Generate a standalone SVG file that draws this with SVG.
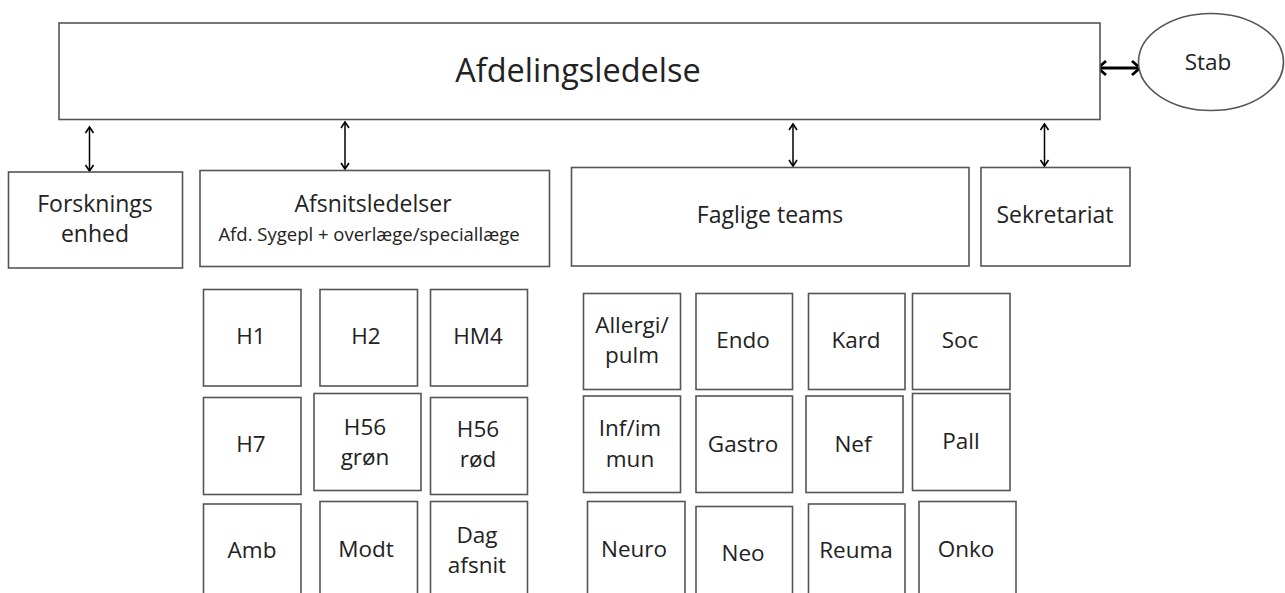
<svg xmlns="http://www.w3.org/2000/svg" width="1285" height="593" viewBox="0 0 1285 593">
<style>
.box{fill:#fff;stroke:#555;stroke-width:1.6}
text{font-family:"Open Sans","Noto Sans","DejaVu Sans",sans-serif;fill:#222;text-anchor:middle}
.t1{font-size:32.5px}
.t2{font-size:23px}
.t3{font-size:18.5px}
.t4{font-size:22.5px}
.conn{stroke:#000;stroke-width:1.5;fill:none}
.thick{stroke:#000;stroke-width:3;fill:none}
</style>
<defs>
<marker id="ah" markerWidth="12" markerHeight="12" refX="9" refY="6" orient="auto-start-reverse" markerUnits="userSpaceOnUse">
<path d="M3,2 L9,6 L3,10" fill="none" stroke="#000" stroke-width="1.6"/>
</marker>
<marker id="ah2" markerWidth="16" markerHeight="20" refX="12" refY="10" orient="auto-start-reverse" markerUnits="userSpaceOnUse">
<path d="M4,3 L12,10 L4,17" fill="none" stroke="#000" stroke-width="2.8"/>
</marker>
</defs>
<g id="connectors">
<line class="conn" x1="89.5" y1="127" x2="89.5" y2="171" marker-start="url(#ah)" marker-end="url(#ah)"/>
<line class="conn" x1="345" y1="122" x2="345" y2="169" marker-start="url(#ah)" marker-end="url(#ah)"/>
<line class="conn" x1="793" y1="124" x2="793" y2="166" marker-start="url(#ah)" marker-end="url(#ah)"/>
<line class="conn" x1="1044.5" y1="124" x2="1044.5" y2="166" marker-start="url(#ah)" marker-end="url(#ah)"/>
<line class="thick" x1="1098" y1="68" x2="1140" y2="68" marker-start="url(#ah2)" marker-end="url(#ah2)"/>
</g>
<g id="afdelingsledelse"><rect class="box" x="59" y="23" width="1041" height="96.5"/><text class="t1" x="578" y="82">Afdelingsledelse</text></g>
<g id="stab"><ellipse class="box" cx="1211" cy="62" rx="72.5" ry="48.5"/><text class="t4" x="1208" y="70">Stab</text></g>
<g id="forsknings"><rect class="box" x="8.5" y="172" width="174" height="96"/><text class="t2" x="95" y="212">Forsknings</text><text class="t2" x="95" y="242">enhed</text></g>
<g id="afsnitsledelser"><rect class="box" x="200" y="170.5" width="349.5" height="96"/><text class="t2" x="373" y="212">Afsnitsledelser</text><text class="t3" x="369" y="241">Afd. Sygepl + overlæge/speciallæge</text></g>
<g id="faglige"><rect class="box" x="571.5" y="167.5" width="397.5" height="98.5"/><text class="t2" x="770" y="223">Faglige teams</text></g>
<g id="sekretariat"><rect class="box" x="981" y="167.5" width="149" height="98.5"/><text class="t2" x="1055" y="223">Sekretariat</text></g>

<g id="h1"><rect class="box" x="203.5" y="289.5" width="97.5" height="96.5"/><text class="t4" x="251" y="344">H1</text></g>
<g id="h2"><rect class="box" x="320" y="289.5" width="97.5" height="96.5"/><text class="t4" x="366" y="344">H2</text></g>
<g id="hm4"><rect class="box" x="430.5" y="289.5" width="97" height="96.5"/><text class="t4" x="478" y="344">HM4</text></g>
<g id="h7"><rect class="box" x="203.5" y="397.5" width="97.5" height="97"/><text class="t4" x="251" y="452">H7</text></g>
<g id="h56gron"><rect class="box" x="314" y="393.5" width="107" height="97"/><text class="t4" x="365" y="435">H56</text><text class="t4" x="365" y="465">grøn</text></g>
<g id="h56rod"><rect class="box" x="430.5" y="397.5" width="97" height="97"/><text class="t4" x="478" y="437">H56</text><text class="t4" x="478" y="467">rød</text></g>
<g id="amb"><rect class="box" x="203.5" y="504" width="97.5" height="97"/><text class="t4" x="252" y="558">Amb</text></g>
<g id="modt"><rect class="box" x="320" y="501.5" width="97.5" height="100"/><text class="t4" x="366" y="557">Modt</text></g>
<g id="dag"><rect class="box" x="430.5" y="501.5" width="97" height="100"/><text class="t4" x="477" y="543">Dag</text><text class="t4" x="477" y="573">afsnit</text></g>

<g id="allergi"><rect class="box" x="583.5" y="293.5" width="97" height="96"/><text class="t4" x="632" y="333">Allergi/</text><text class="t4" x="632" y="363">pulm</text></g>
<g id="endo"><rect class="box" x="696" y="293.5" width="96.5" height="96"/><text class="t4" x="743" y="348">Endo</text></g>
<g id="kard"><rect class="box" x="808.5" y="293.5" width="96.5" height="96"/><text class="t4" x="856" y="348">Kard</text></g>
<g id="soc"><rect class="box" x="912.5" y="293.5" width="97.5" height="96"/><text class="t4" x="960" y="348">Soc</text></g>
<g id="infimmun"><rect class="box" x="583.5" y="396" width="97" height="96.5"/><text class="t4" x="630" y="436">Inf/im</text><text class="t4" x="630" y="467">mun</text></g>
<g id="gastro"><rect class="box" x="696" y="396" width="96.5" height="96.5"/><text class="t4" x="743" y="452">Gastro</text></g>
<g id="nef"><rect class="box" x="806" y="396" width="97" height="96.5"/><text class="t4" x="853" y="452">Nef</text></g>
<g id="pall"><rect class="box" x="912.5" y="393.5" width="97.5" height="97"/><text class="t4" x="961" y="449">Pall</text></g>
<g id="neuro"><rect class="box" x="587.5" y="501.5" width="97.5" height="100"/><text class="t4" x="634" y="557">Neuro</text></g>
<g id="neo"><rect class="box" x="696" y="506.5" width="96.5" height="96"/><text class="t4" x="743" y="561">Neo</text></g>
<g id="reuma"><rect class="box" x="808.5" y="504" width="96.5" height="97"/><text class="t4" x="856" y="558">Reuma</text></g>
<g id="onko"><rect class="box" x="919" y="501.5" width="97" height="100"/><text class="t4" x="966" y="557">Onko</text></g>
</svg>
